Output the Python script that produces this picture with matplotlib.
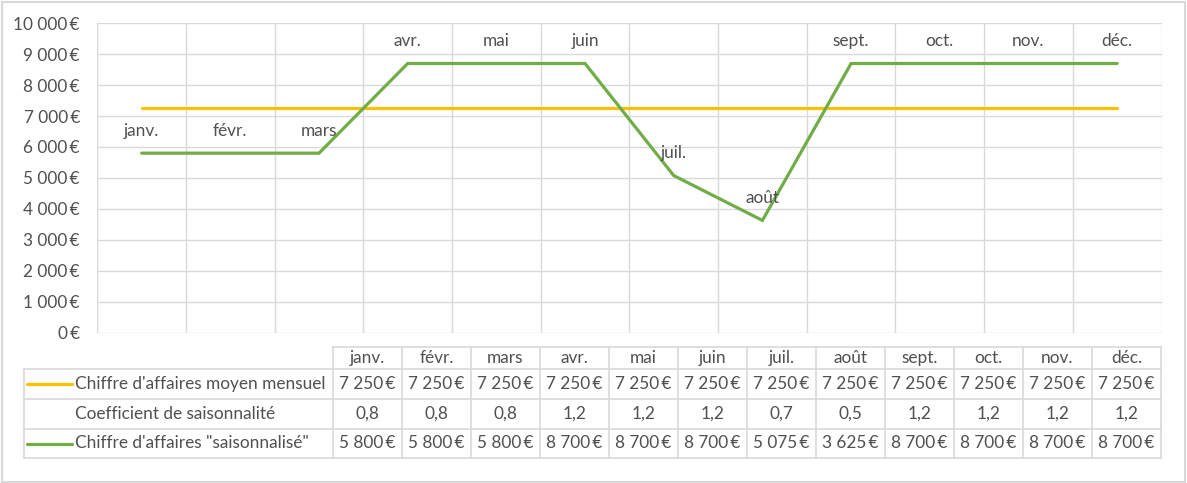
import matplotlib.pyplot as plt
from matplotlib.lines import Line2D
from matplotlib.patches import Rectangle

# Data
mois = ['janv.', 'févr.', 'mars', 'avr.', 'mai', 'juin', 'juil.', 'août',
        'sept.', 'oct.', 'nov.', 'déc.']
ca_moyen = [7250] * 12
coef = [0.8, 0.8, 0.8, 1.2, 1.2, 1.2, 0.7, 0.5, 1.2, 1.2, 1.2, 1.2]
ca_saison = [5800, 5800, 5800, 8700, 8700, 8700, 5075, 3625, 8700, 8700, 8700, 8700]
serie_noms = ["Chiffre d'affaires moyen mensuel", "Coefficient de saisonnalité",
              'Chiffre d\'affaires "saisonnalisé"']

W, H = 1187, 483
TXT = '#505050'
GRID = '#d9d9d9'
JAUNE = '#FFC000'
VERT = '#70AD47'
plt.rcParams['font.family'] = ['Lato', 'DejaVu Sans']


def eur(v):
    s = f'{v:,.0f}'.replace(',', '\u00a0')
    return s + '\u2009€'


def virg(v):
    return f'{v:.1f}'.replace('.', ',')


def fx(x):
    return x / W


def fy(y):
    return 1 - y / H


fig = plt.figure(figsize=(W / 100, H / 100), dpi=100)
fig.patches.append(Rectangle((fx(1.5), fy(481.5)), fx(1183), (479.5) / H,
                             transform=fig.transFigure, fill=False,
                             edgecolor=GRID, lw=1.5))

fs = 12.4

# plot area
left, right, top, bottom = 97.3, 1161.5, 23.3, 332.5
ax = fig.add_axes([fx(left), fy(bottom), fx(right - left), (bottom - top) / H])
x = list(range(12))
ax.plot(x, ca_moyen, color=JAUNE, lw=2.3, solid_capstyle='round', zorder=3)
ax.plot(x, ca_saison, color=VERT, lw=2.3, solid_capstyle='round',
        solid_joinstyle='miter', zorder=3)
for i, (m, v) in enumerate(zip(mois, ca_saison)):
    ax.annotate(m, (i, v), xytext=(0, 16), textcoords='offset points',
                ha='center', va='center', fontsize=fs, color=TXT, zorder=4)

ax.set_xlim(-0.5, 11.5)
ax.set_ylim(0, 10000)
ax.set_yticks(range(0, 10001, 1000))
ax.set_yticklabels([eur(v) for v in range(0, 10001, 1000)])
ax.set_xticks([i + 0.5 for i in range(-1, 12)])
ax.set_xticklabels([])
ax.grid(True, color=GRID, lw=1)
ax.tick_params(length=0, labelsize=fs, labelcolor=TXT, pad=12.5)
for s in ['top', 'right', 'left', 'bottom']:
    ax.spines[s].set_visible(False)
ax.set_axisbelow(True)

# data table
c0, cw = 333.0, 69.0
rows = [347, 369, 399, 429, 458]
lab_left = 23.5
cols = [c0 + k * cw for k in range(13)]


def hline(x1, x2, y):
    fig.lines.append(Line2D([fx(x1), fx(x2)], [fy(y), fy(y)],
                            transform=fig.transFigure, color=GRID, lw=1.2))


def vline(x, y1, y2):
    fig.lines.append(Line2D([fx(x), fx(x)], [fy(y1), fy(y2)],
                            transform=fig.transFigure, color=GRID, lw=1.2))


hline(cols[0], cols[-1], rows[0])
for y in rows[1:]:
    hline(lab_left, cols[-1], y)
for c in cols:
    vline(c, rows[0], rows[-1])
vline(lab_left, rows[1], rows[-1])

for k, m in enumerate(mois):
    cx = c0 + (k + 0.5) * cw
    fig.text(fx(cx), fy((rows[0] + rows[1]) / 2), m, ha='center', va='center',
             fontsize=fs, color=TXT)
    fig.text(fx(cx), fy((rows[1] + rows[2]) / 2), eur(ca_moyen[k]), ha='center',
             va='center', fontsize=fs, color=TXT)
    fig.text(fx(cx), fy((rows[2] + rows[3]) / 2), virg(coef[k]), ha='center',
             va='center', fontsize=fs, color=TXT)
    fig.text(fx(cx), fy((rows[3] + rows[4]) / 2), eur(ca_saison[k]), ha='center',
             va='center', fontsize=fs, color=TXT)

for r, nom in enumerate(serie_noms):
    yc = (rows[r + 1] + rows[r + 2]) / 2
    fig.text(fx(75), fy(yc), nom, ha='left', va='center', fontsize=fs, color=TXT)
couleurs = [JAUNE, None, VERT]
for r, col in enumerate(couleurs):
    if col is None:
        continue
    yc = (rows[r + 1] + rows[r + 2]) / 2
    fig.lines.append(Line2D([fx(27), fx(72)], [fy(yc), fy(yc)],
                            transform=fig.transFigure, color=col, lw=2.3,
                            solid_capstyle='round'))

fig.savefig('out.png', dpi=100)
